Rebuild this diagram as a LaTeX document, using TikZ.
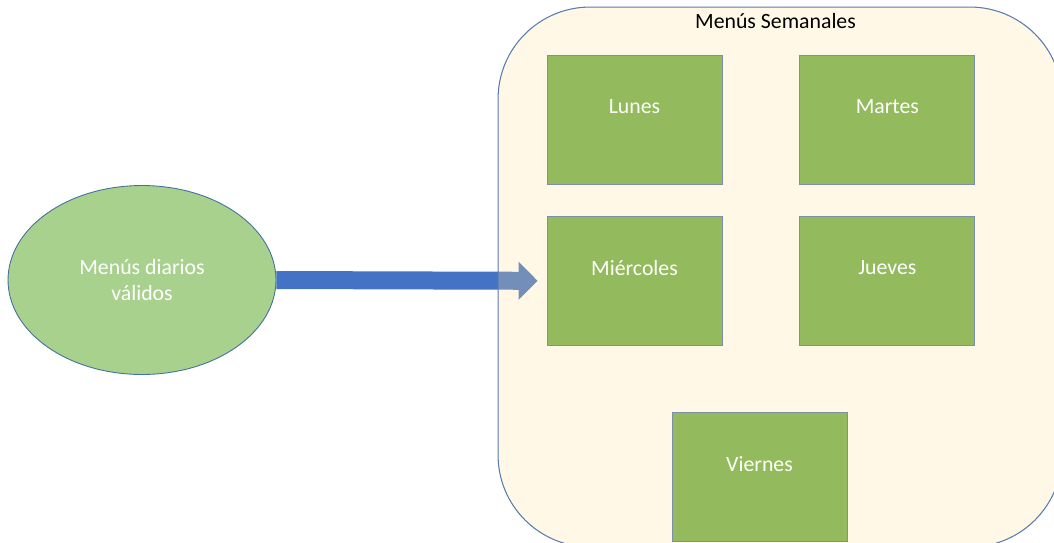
\documentclass[tikz,border=0pt]{standalone}
\usepackage{fontspec}
\setmainfont{Carlito}
\usetikzlibrary{positioning, shapes.geometric, arrows.meta, backgrounds}
\definecolor{diaborde}{HTML}{7F8FA9}
\definecolor{diafondo}{HTML}{93BB5D}
\definecolor{elipfondo}{HTML}{A9D18E}
\definecolor{elipborde}{HTML}{41719C}
\definecolor{semfondo}{RGB}{255,227,155}
\definecolor{semborde}{HTML}{5A7BB0}
\definecolor{flecha}{HTML}{4472C4}
\tikzset{
  day/.style={rectangle, draw=diaborde, fill=diafondo, line width=0.5pt,
    minimum width=3.5cm, minimum height=2.58cm, inner sep=0pt},
  daytext/.style={text=white, font=\fontsize{12.4}{15}\selectfont, yshift=0.26cm},
  flow/.style={draw=flecha, line width=0.36cm,
    -{Triangle[length=0.38cm, width=0.74cm]}, shorten >=0.18cm}
}

\begin{document}
\begin{tikzpicture}[x=0.02cm, y=-0.02cm]
\useasboundingbox (0,0) rectangle (1054,542);
\clip (0,0) rectangle (1054,542);
\node[ellipse, draw=elipborde, fill=elipfondo, line width=0.5pt,
  minimum width=5.36cm, minimum height=3.78cm, align=center, text=white,
  font=\fontsize{12.4}{14.8}\selectfont] (validos) at (142,280) {Menús diarios\\válidos};
\node[rectangle, rounded corners=1.84cm, draw=semborde, line width=0.6pt,
  fill=semfondo, fill opacity=0.25, minimum width=11.28cm, minimum height=10.8cm]
  (semana) at (780,277) {};
\node[font=\fontsize{12.4}{15}\selectfont] (titulo) at (775.5,21) {Menús Semanales};
\node[day, label={[daytext]center:Lunes}] (lunes) at (634.5,120) {};
\node[day, label={[daytext]center:Martes}, right=1.54cm of lunes] (martes) {};
\node[day, label={[daytext]center:Miércoles}, below=0.62cm of lunes] (mier) {};
\node[day, label={[daytext]center:Jueves}, below=0.62cm of martes] (jueves) {};
\node[day, label={[daytext]center:Viernes}] (viernes) at (759.5,477) {};
\begin{pgfonlayer}{background}
\draw[flow] (validos.east) -- (mier.west);
\end{pgfonlayer}
\end{tikzpicture}
\end{document}
